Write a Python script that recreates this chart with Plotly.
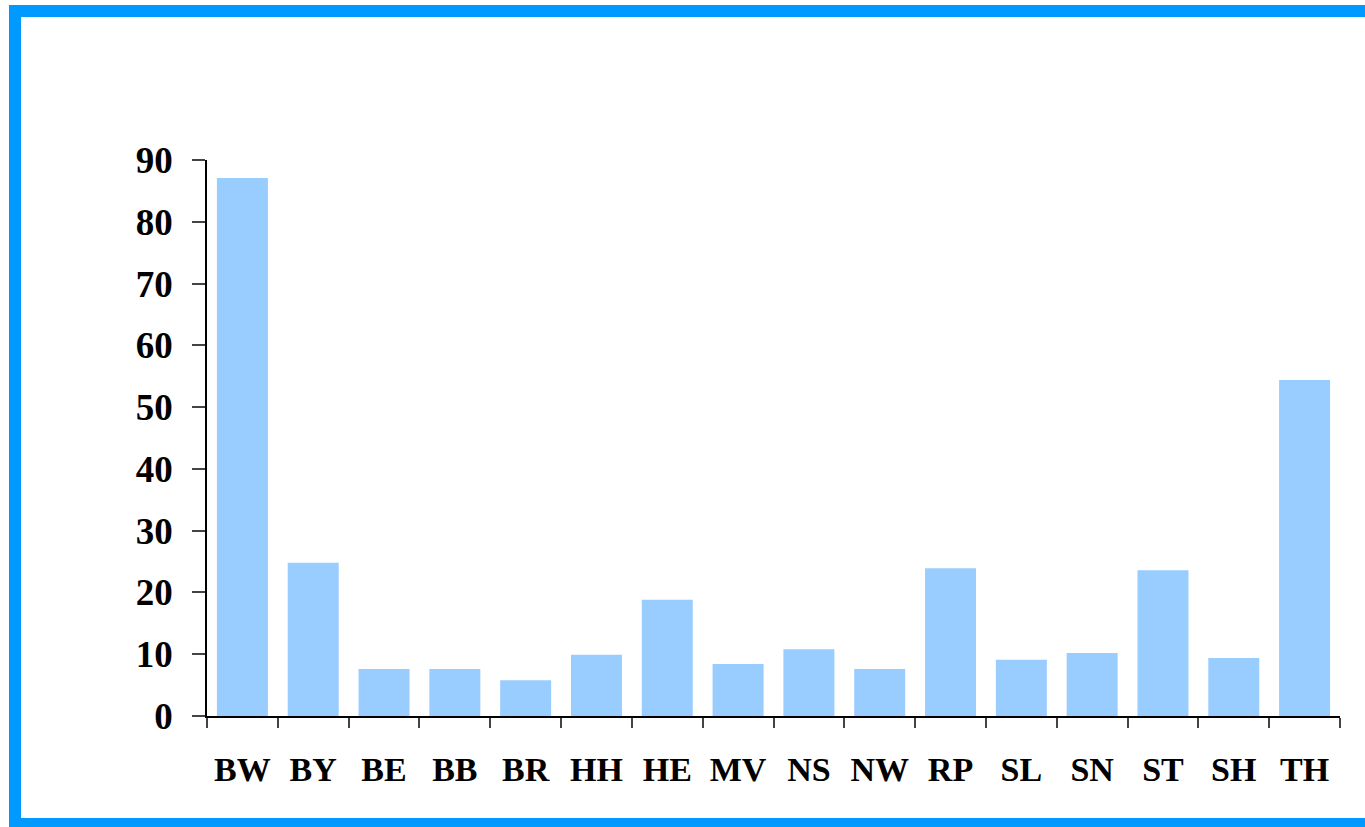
import plotly.graph_objects as go

categories = ["BW", "BY", "BE", "BB", "BR", "HH", "HE", "MV", "NS", "NW", "RP", "SL", "SN", "ST", "SH", "TH"]
values = [87.1, 24.8, 7.6, 7.6, 5.8, 9.9, 18.8, 8.4, 10.8, 7.6, 23.9, 9.1, 10.2, 23.6, 9.4, 54.4]
y_ticks = [0, 10, 20, 30, 40, 50, 60, 70, 80, 90]

W, H = 1365, 827
L, R, T, B = 207, 25, 160, 111
pw, ph = W - L - R, H - T - B

def px(x):
    return (x - L) / pw

def py(y):
    return (H - B - y) / ph

fig = go.Figure(go.Bar(x=categories, y=values, marker=dict(color="#99CCFF", line=dict(width=0))))

fig.update_layout(
    width=W, height=H,
    margin=dict(l=L, r=R, t=T, b=B),
    paper_bgcolor="white", plot_bgcolor="white",
    bargap=0.28,
    showlegend=False,
    shapes=[dict(type="rect", xref="paper", yref="paper",
                 x0=px(15), x1=px(1385), y0=py(824), y1=py(11),
                 line=dict(color="#0099FF", width=12), fillcolor="rgba(0,0,0,0)", layer="above")],
)
fig.update_xaxes(
    type="category", showline=True, linecolor="black", linewidth=1.5,
    ticks="outside", ticklen=10, tickcolor="#444", tickwidth=1.5, tickson="boundaries",
    tickfont=dict(family="Liberation Serif", size=34, color="black", weight="bold"),
    ticklabelstandoff=22, showgrid=False, zeroline=False,
)
fig.update_yaxes(
    range=[0, 90], tickvals=y_ticks, showline=True, linecolor="black", linewidth=1.5,
    ticks="outside", ticklen=13, tickcolor="#444", tickwidth=1.5,
    tickfont=dict(family="Liberation Serif", size=37, color="black", weight="bold"),
    ticklabelstandoff=12, showgrid=False, zeroline=False,
)
fig.write_html("out.html")
